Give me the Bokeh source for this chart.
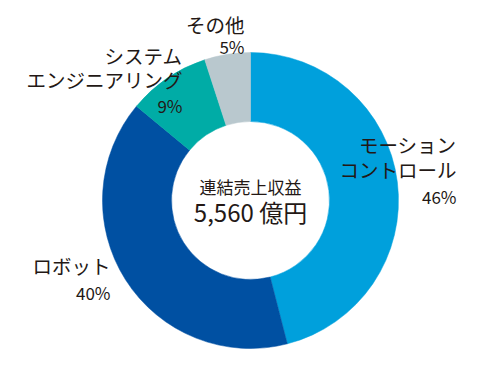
import numpy as np
from bokeh.plotting import figure
from bokeh.models import Range1d, ColumnDataSource
from bokeh.core.properties import value
from bokeh.embed import file_html
from bokeh.resources import INLINE

# ---- data ----
segments = ["モーション\nコントロール", "ロボット", "システム\nエンジニアリング", "その他"]
shares = [46, 40, 9, 5]
pct_labels = ["46%", "40%", "9%", "5%"]
colors = ["#00A0DC", "#0050A2", "#00ACA6", "#B9C8CE"]
center_title = "連結売上収益"
center_value = "5,560 億円"

FONT = "Noto Sans CJK JP"
W, H = 461, 356
PAGE_H = 372
OFF = 1  # page offset of the figure's top-left corner

def py(y):  # page y -> data y
    return PAGE_H - y

p = figure(width=W, height=H, output_backend="svg", toolbar_location=None,
           x_range=Range1d(OFF, OFF + W), y_range=Range1d(PAGE_H - OFF - H, PAGE_H - OFF),
           min_border=0, outline_line_color=None)
p.axis.visible = False
p.grid.visible = False
p.background_fill_color = "white"
p.border_fill_color = "white"

cx, cy = 251, py(201)
r_out, r_in = 148, 79

fr = np.array(shares, dtype=float) / np.sum(shares)
cum = np.concatenate([[0], np.cumsum(fr)])
start = np.pi / 2 - cum[:-1] * 2 * np.pi
end = np.pi / 2 - cum[1:] * 2 * np.pi

src = ColumnDataSource(dict(start=start, end=end, color=colors))
p.annular_wedge(x=cx, y=cy, inner_radius=r_in, outer_radius=r_out,
                start_angle="start", end_angle="end", direction="clock",
                fill_color="color", line_color="color", line_width=0.5, source=src)

# label layout: (x right edge, name y lines, pct y)
name_pos = [(457, [145, 170], 197), (111, [266], 293), (183, [56, 80], 106), (245, [25], 47)]
for i, (xr, ys, yp) in enumerate(name_pos):
    lines = segments[i].split("\n")
    p.text(x=[xr] * len(lines), y=[py(y) for y in ys], text=lines,
           text_font=value(FONT), text_font_size="19.5px", text_color="#231815",
           text_align="right", text_baseline="middle")
    p.text(x=[xr], y=[py(yp)], text=[pct_labels[i]],
           text_font=value(FONT), text_font_size="17px", text_color="#231815",
           text_align="right", text_baseline="middle")

p.text(x=[cx], y=[py(187)], text=[center_title], text_font=value(FONT),
       text_font_size="17px", text_color="#231815", text_align="center", text_baseline="middle")
p.text(x=[cx], y=[py(212)], text=[center_value], text_font=value(FONT),
       text_font_size="24px", text_color="#231815", text_align="center", text_baseline="middle")

open("out.html", "w").write(file_html(p, INLINE))
